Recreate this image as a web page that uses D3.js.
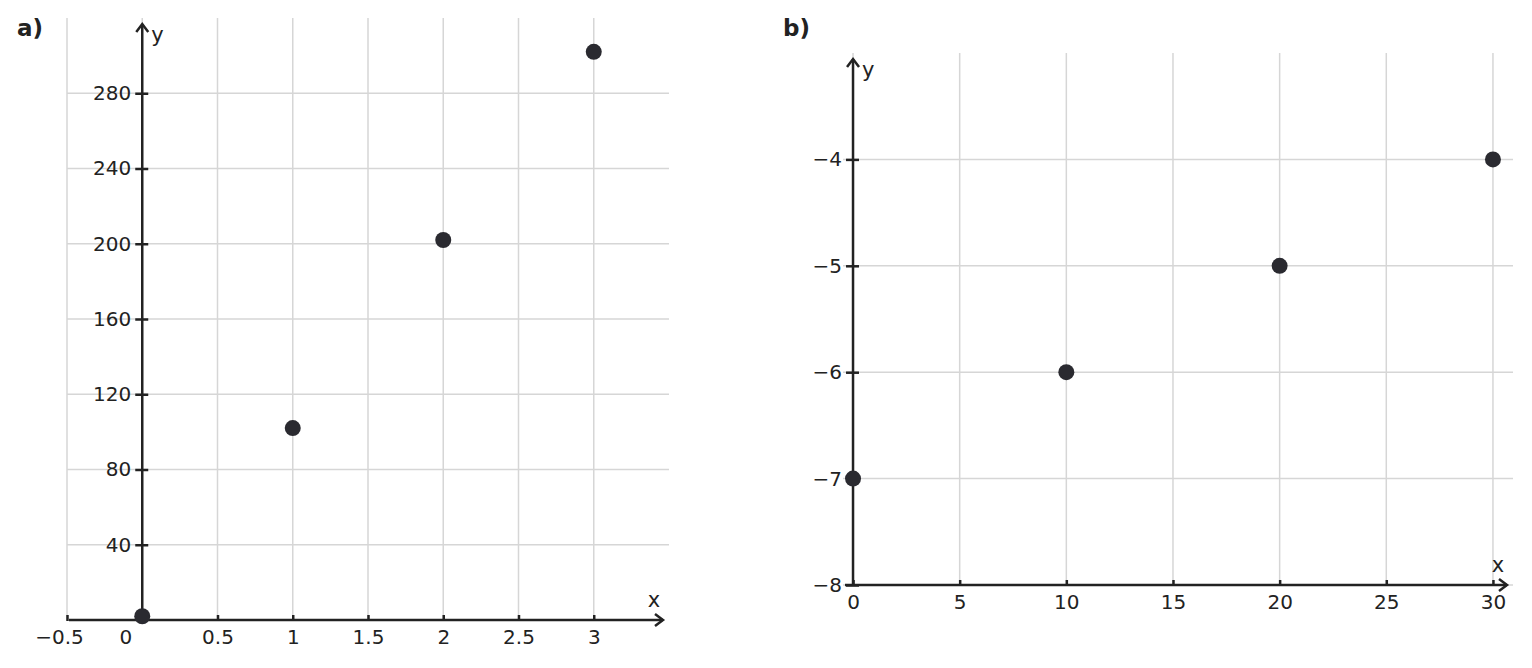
<!DOCTYPE html>
<html>
<head>
<meta charset="utf-8">
<script src="https://cdn.jsdelivr.net/npm/d3@7"></script>
<style>
  body { margin: 0; background: #fff; }
  text { font-family: "DejaVu Sans", sans-serif; fill: #222; }
</style>
</head>
<body>
<div id="chart-area"></div>
<script>
// panel a data
let xTicksA = [-0.5, 0, 0.5, 1, 1.5, 2, 2.5, 3];
let yTicksA = [40, 80, 120, 160, 200, 240, 280];
let xValsA = [0, 1, 2, 3];
let yValsA = [2, 102, 202, 302];

// panel b data
let xTicksB = [0, 5, 10, 15, 20, 25, 30];
let yTicksB = [-8, -7, -6, -5, -4];
let xValsB = [0, 10, 20, 30];
let yValsB = [-7, -6, -5, -4];

let width = 1532, height = 668;
let axisColor = "#222", gridColor = "#d6d6d6", dotColor = "#2a2a30";

let svg = d3.select("#chart-area")
    .append("svg")
    .attr("width", width)
    .attr("height", height);

let fmt = d3.format("");

function drawPanel(p) {
    let g = svg.append("g");
    let x0 = p.x(p.xOrigin), y0 = p.y(p.yOrigin);
    let [xl, xr] = p.x.range();
    let [yb, yt] = p.y.range();

    // grid
    g.selectAll(".vgrid")
        .data(p.xTicks).enter()
        .append("line")
        .attr("x1", d => p.x(d)).attr("x2", d => p.x(d))
        .attr("y1", yt).attr("y2", y0)
        .style("stroke", gridColor).style("stroke-width", 1.5);
    g.selectAll(".hgrid")
        .data(p.yTicks).enter()
        .append("line")
        .attr("x1", xl).attr("x2", xr)
        .attr("y1", d => p.y(d)).attr("y2", d => p.y(d))
        .style("stroke", gridColor).style("stroke-width", 1.5);

    // x axis
    let xa = g.append("g")
        .attr("transform", "translate(0," + y0 + ")")
        .call(d3.axisBottom(p.x).tickValues(p.xTicks).tickFormat(fmt).tickSize(0));
    xa.select(".domain").remove();
    xa.selectAll("text")
        .attr("y", 10)
        // centre the digits, leaving the minus sign hanging to the left
        .attr("x", d => d < 0 ? -8 : 0)
        .style("font-size", "20px")
        .style("font-family", "DejaVu Sans")
        .style("fill", "#222");
    xa.selectAll(".tick line")
        .attr("y1", -5).attr("y2", 1)
        .style("stroke", axisColor).style("stroke-width", 2.5);
    // the 0 label sits left of the y axis when the axes cross there
    if (p.shiftZero) {
        xa.selectAll(".tick").filter(d => d === 0)
            .select("text").attr("x", -17);
        xa.selectAll(".tick").filter(d => d === 0)
            .select("line").remove();
    }

    // y axis
    let ya = g.append("g")
        .attr("transform", "translate(" + x0 + ",0)")
        .call(d3.axisLeft(p.y).tickValues(p.yTicks).tickFormat(fmt).tickSize(0));
    ya.select(".domain").remove();
    ya.selectAll("text")
        .attr("x", -11)
        .style("font-size", "20px")
        .style("font-family", "DejaVu Sans")
        .style("fill", "#222");
    ya.selectAll(".tick line")
        .attr("x1", -7).attr("x2", 6)
        .style("stroke", axisColor).style("stroke-width", 2.5);

    // axis lines with open arrow heads
    let xTip = xr - 6, yTip = yt + 6;
    g.append("line")
        .attr("x1", xl + 2).attr("x2", xTip)
        .attr("y1", y0).attr("y2", y0)
        .style("stroke", axisColor).style("stroke-width", 2.5);
    g.append("path")
        .attr("d", d3.line()([[xTip - 8, y0 - 6], [xTip, y0], [xTip - 8, y0 + 6]]))
        .style("fill", "none").style("stroke", axisColor).style("stroke-width", 2.5);
    g.append("line")
        .attr("x1", x0).attr("x2", x0)
        .attr("y1", y0 + 1).attr("y2", yTip)
        .style("stroke", axisColor).style("stroke-width", 2.5);
    g.append("path")
        .attr("d", d3.line()([[x0 - 6, yTip + 8], [x0, yTip], [x0 + 6, yTip + 8]]))
        .style("fill", "none").style("stroke", axisColor).style("stroke-width", 2.5);

    g.append("text")
        .attr("x", xTip - 9).attr("y", y0 - 20)
        .attr("text-anchor", "middle").attr("dominant-baseline", "central")
        .style("font-size", "21px")
        .text("x");
    g.append("text")
        .attr("x", x0 + 9).attr("y", yTip + 11)
        .attr("dominant-baseline", "central")
        .style("font-size", "21px")
        .text("y");

    // points
    g.selectAll(".dot")
        .data(p.xVals).enter()
        .append("circle")
        .attr("cx", d => p.x(d))
        .attr("cy", (d, i) => p.y(p.yVals[i]))
        .attr("r", 8)
        .style("fill", dotColor);

    // panel label
    svg.append("text")
        .attr("x", p.labelX).attr("y", 36)
        .style("font-size", "23px").style("font-weight", "bold")
        .text(p.label);
}

drawPanel({
    label: "a)", labelX: 17,
    x: d3.scaleLinear().domain([-0.5, 3.5]).range([67, 669]),
    y: d3.scaleLinear().domain([0, 320]).range([620, 18]),
    xOrigin: 0, yOrigin: 0, shiftZero: true,
    xTicks: xTicksA, yTicks: yTicksA, xVals: xValsA, yVals: yValsA
});

drawPanel({
    label: "b)", labelX: 783,
    x: d3.scaleLinear().domain([-0.47, 30.94]).range([843, 1513]),
    y: d3.scaleLinear().domain([-8, -3]).range([585, 53]),
    xOrigin: 0, yOrigin: -8, shiftZero: false,
    xTicks: xTicksB, yTicks: yTicksB, xVals: xValsB, yVals: yValsB
});
</script>
</body>
</html>
